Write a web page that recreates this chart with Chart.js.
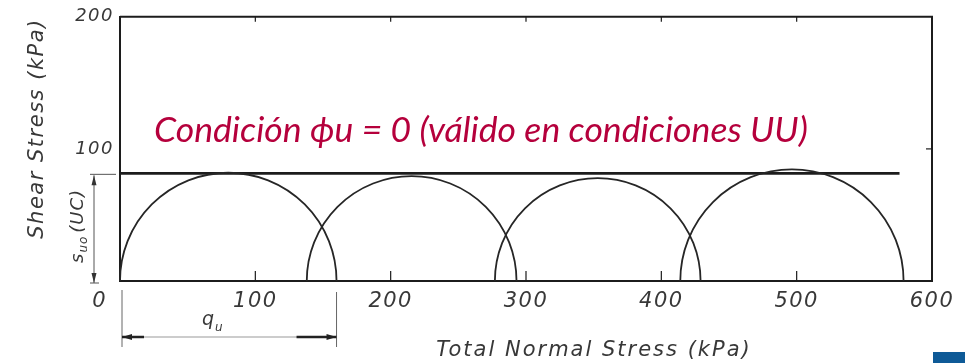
<!DOCTYPE html>
<html>
<head>
<meta charset="utf-8">
<script src="https://cdn.jsdelivr.net/npm/chart.js@4.4.1/dist/chart.umd.min.js"></script>
<style>
  html, body { margin: 0; padding: 0; background: #fff; }
  #wrap { position: relative; width: 965px; height: 363px; }
</style>
</head>
<body>
<div id="wrap"><canvas id="chart" width="965" height="363"></canvas></div>
<script>
// Mohr circles for UU tests: minor and major total principal stresses (kPa)
const sigma3 = [0, 138, 277, 414];
const sigma1 = [160, 293, 429, 579];

// phi_u = 0 failure envelope (horizontal line at s_u)
const envelopeSigma = [0, 576];
const envelopeTau = [81.5, 81.5];

// axis ticks
const xTicks = [0, 100, 200, 300, 400, 500, 600];
const yTicks = [100, 200];

const INK = "#1c1c1c";
const LABEL = "#383838";
const ITALIC = "DejaVu Sans";

const envelopePoints = envelopeSigma.map((s, i) => ({ x: s, y: envelopeTau[i] }));

// the scanned lettering is wide, so space the axis text out a little
const spacingPlugin = {
    id: "spacing",
    beforeDraw(chart) { chart.ctx.letterSpacing = "1.5px"; },
    afterDraw(chart) { chart.ctx.letterSpacing = "0px"; }
};

// Mohr circles, frame ticks and the annotations of the scanned figure
const mohrPlugin = {
    id: "mohr",
    afterDatasetsDraw(chart) {
        const { ctx, chartArea: a, scales: { x, y } } = chart;
        const y0 = y.getPixelForValue(0);

        ctx.save();
        // closing frame (top and right edges)
        ctx.strokeStyle = INK;
        ctx.lineWidth = 2;
        ctx.beginPath();
        ctx.moveTo(a.left, a.top);
        ctx.lineTo(a.right, a.top);
        ctx.lineTo(a.right, a.bottom);
        ctx.stroke();

        // inner tick marks
        ctx.lineWidth = 1.2;
        xTicks.slice(1, -1).forEach(v => {
            const px = x.getPixelForValue(v);
            ctx.beginPath();
            ctx.moveTo(px, a.bottom); ctx.lineTo(px, a.bottom - 10);
            ctx.moveTo(px, a.top); ctx.lineTo(px, a.top + 5);
            ctx.stroke();
        });
        const py100 = y.getPixelForValue(yTicks[0]);
        ctx.beginPath();
        ctx.moveTo(a.right, py100); ctx.lineTo(a.right - 6, py100);
        ctx.stroke();

        // semicircles
        ctx.lineWidth = 1.8;
        ctx.strokeStyle = "#262626";
        sigma3.forEach((s3, i) => {
            const s1 = sigma1[i];
            const cx = x.getPixelForValue((s1 + s3) / 2);
            const r = x.getPixelForValue(s1) - cx;
            ctx.beginPath();
            ctx.arc(cx, y0, r, Math.PI, 2 * Math.PI);
            ctx.stroke();
        });

        // s_uo dimension on the left
        const yTop = y.getPixelForValue(envelopeTau[0]);
        const dx = 94;
        ctx.strokeStyle = "#555";
        ctx.fillStyle = "#333";
        ctx.lineWidth = 1;
        ctx.beginPath();
        ctx.moveTo(dx, yTop + 2); ctx.lineTo(dx, y0 + 2);
        ctx.moveTo(dx - 4, yTop + 1); ctx.lineTo(a.left - 4, yTop + 1);
        ctx.moveTo(dx - 4, y0 + 2); ctx.lineTo(dx + 5, y0 + 2);
        ctx.stroke();
        ctx.beginPath();
        ctx.moveTo(dx, yTop + 2); ctx.lineTo(dx - 2.5, yTop + 12); ctx.lineTo(dx + 2.5, yTop + 12);
        ctx.closePath();
        ctx.moveTo(dx, y0 + 2); ctx.lineTo(dx - 2.5, y0 - 8); ctx.lineTo(dx + 2.5, y0 - 8);
        ctx.closePath();
        ctx.fill();

        ctx.save();
        ctx.translate(83, 263);
        ctx.rotate(-Math.PI / 2);
        ctx.fillStyle = LABEL;
        ctx.textBaseline = "alphabetic";
        ctx.letterSpacing = "1px";
        ctx.font = "italic 18px " + ITALIC;
        ctx.fillText("s", 0, 0);
        let w = ctx.measureText("s").width;
        ctx.font = "italic 12px " + ITALIC;
        ctx.fillText("uo", w, 4);
        w += ctx.measureText("uo").width + 3;
        ctx.font = "italic 18px " + ITALIC;
        ctx.fillText("(UC)", w, 0);
        ctx.restore();

        // q_u dimension under the axis
        const qL = x.getPixelForValue(sigma3[0]) + 2;
        const qR = x.getPixelForValue(sigma1[0]);
        const qy = 337;
        ctx.strokeStyle = "#666";
        ctx.lineWidth = 1;
        ctx.beginPath();
        ctx.moveTo(qL, 290); ctx.lineTo(qL, 347);
        ctx.moveTo(qR, 292); ctx.lineTo(qR, 347);
        ctx.stroke();
        ctx.strokeStyle = "#999";
        ctx.beginPath();
        ctx.moveTo(qL, qy); ctx.lineTo(qR, qy);
        ctx.stroke();
        ctx.strokeStyle = "#222";
        ctx.lineWidth = 2.5;
        ctx.beginPath();
        ctx.moveTo(qL, qy); ctx.lineTo(qL + 22, qy);
        ctx.moveTo(qR - 40, qy); ctx.lineTo(qR, qy);
        ctx.stroke();
        ctx.fillStyle = "#222";
        ctx.beginPath();
        ctx.moveTo(qL, qy); ctx.lineTo(qL + 10, qy - 3); ctx.lineTo(qL + 10, qy + 3);
        ctx.closePath();
        ctx.moveTo(qR, qy); ctx.lineTo(qR - 10, qy - 3); ctx.lineTo(qR - 10, qy + 3);
        ctx.closePath();
        ctx.fill();

        ctx.fillStyle = LABEL;
        ctx.font = "italic 19px " + ITALIC;
        ctx.fillText("q", 202, 325);
        ctx.font = "italic 12px " + ITALIC;
        ctx.fillText("u", 215, 331);

        // x axis title
        ctx.fillStyle = LABEL;
        ctx.font = "italic 21px " + ITALIC;
        ctx.letterSpacing = "2px";
        ctx.textAlign = "center";
        ctx.fillText("Total Normal Stress (kPa)", 594, 356);
        ctx.letterSpacing = "0px";

        // red note about the phi_u = 0 condition
        const note = "Condición ϕu = 0 (válido en condiciones UU)";
        ctx.textAlign = "left";
        ctx.font = "italic 30px Lato";
        const size = 30 * 655 / ctx.measureText(note).width;
        ctx.font = "italic " + size.toFixed(1) + "px Lato";
        ctx.fillStyle = "#b5003c";
        ctx.fillText(note, 154, 142);

        // corner tab of the slide
        ctx.fillStyle = "#0e5a97";
        ctx.fillRect(933, 352, 32, 11);
        ctx.restore();
    }
};

new Chart(document.getElementById("chart"), {
    type: "scatter",
    data: {
        datasets: [{
            label: "Envolvente φu = 0",
            data: envelopePoints,
            showLine: true,
            borderColor: INK,
            borderWidth: 2.6,
            pointRadius: 0,
            fill: false
        }]
    },
    options: {
        responsive: false,
        animation: false,
        layout: { padding: { top: 16, right: 33, left: 0, bottom: 0 } },
        plugins: {
            legend: { display: false },
            tooltip: { enabled: false }
        },
        scales: {
            x: {
                type: "linear",
                min: 0,
                max: 600,
                afterBuildTicks: scale => { scale.ticks = xTicks.map(v => ({ value: v })); },
                afterFit: scale => { scale.height = 82; },
                grid: { display: false, drawTicks: false },
                border: { display: true, color: INK, width: 2 },
                ticks: {
                    padding: 8,
                    color: LABEL,
                    font: { family: ITALIC, size: 21, style: "italic" },
                    maxRotation: 0,
                    callback: v => v === 0 ? "0     " : String(v)
                }
            },
            y: {
                type: "linear",
                min: 0,
                max: 200,
                afterBuildTicks: scale => { scale.ticks = yTicks.map(v => ({ value: v })); },
                afterFit: scale => { scale.width = 120; },
                grid: { display: false, drawTicks: false },
                border: { display: true, color: INK, width: 2 },
                ticks: {
                    padding: 6,
                    color: LABEL,
                    font: { family: ITALIC, size: 18, style: "italic" }
                },
                title: {
                    display: true,
                    text: "     Shear Stress (kPa)",
                    color: LABEL,
                    padding: { top: 25, bottom: 0 },
                    font: { family: ITALIC, size: 21, style: "italic" }
                }
            }
        }
    },
    plugins: [spacingPlugin, mohrPlugin]
});
</script>
</body>
</html>
